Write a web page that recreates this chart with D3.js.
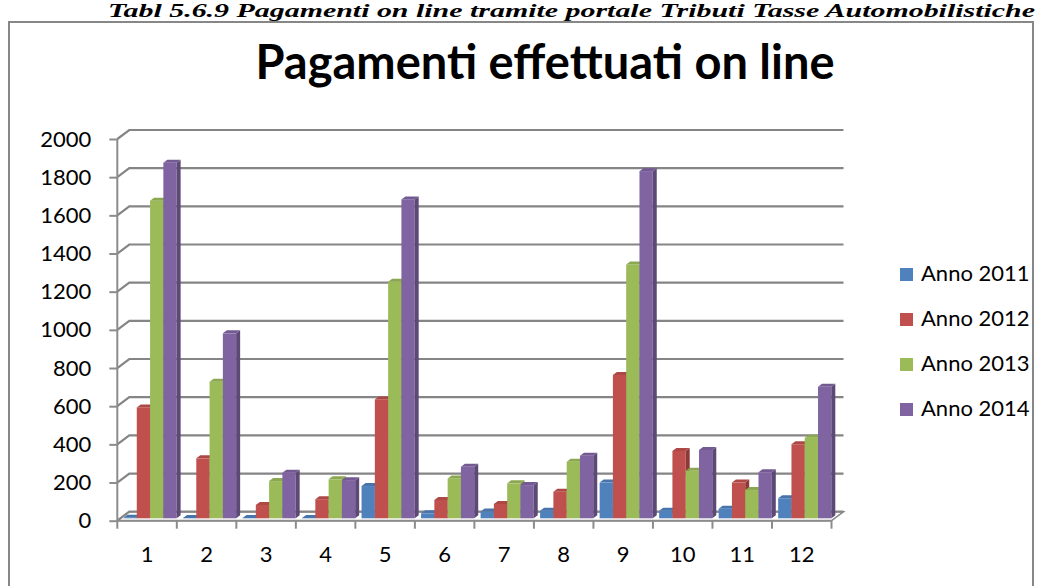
<!DOCTYPE html>
<html>
<head>
<meta charset="utf-8">
<script src="https://cdn.jsdelivr.net/npm/d3@7"></script>
<style>
  body { margin: 0; background: #fff; }
  text { font-family: Lato, "Open Sans", sans-serif; fill: #000; }
</style>
</head>
<body>
<div id="chart"></div>
<script>

// data
var months = ["1", "2", "3", "4", "5", "6", "7", "8", "9", "10", "11", "12"];
var seriesNames = ["Anno 2011", "Anno 2012", "Anno 2013", "Anno 2014"];
var anno2011 = [3, 2, 2, 2, 169, 26, 35, 40, 187, 40, 50, 105];
var anno2012 = [581, 314, 70, 100, 623, 96, 75, 139, 751, 353, 187, 388];
var anno2013 = [1664, 716, 195, 204, 1239, 209, 183, 296, 1330, 249, 148, 422];
var anno2014 = [1863, 969, 239, 200, 1671, 270, 174, 328, 1819, 358, 241, 689];
var yTicks = [0, 200, 400, 600, 800, 1000, 1200, 1400, 1600, 1800, 2000];
var colors = ["#4F81BD", "#C0504D", "#9BBB59", "#8064A2"];

var seriesValues = [anno2011, anno2012, anno2013, anno2014];

function createBarChart(){

  var W = 1041, H = 586;

  // plot area (front plane) and 3d offsets
  var plot = {left: 117.3, right: 831.5, top: 139, bottom: 520.7};
  var wall = {dx: 12, dy: -9};     // back wall offset
  var place = {dx: 3, dy: -2.4};   // where the bars stand in depth
  var depth = {dx: 4, dy: -3};     // thickness of each bar

  var svg = d3.select("#chart").append("svg")
      .attr("width", W)
      .attr("height", H);

  // caption above the chart
  svg.append("text")
      .attr("x", 108)
      .attr("y", 17)
      .attr("textLength", 927)
      .attr("lengthAdjust", "spacingAndGlyphs")
      .style("font-family", "'Liberation Serif', serif")
      .style("font-weight", "bold")
      .style("font-style", "italic")
      .style("font-size", "18px")
      .text("Tabl 5.6.9 Pagamenti on line tramite portale Tributi Tasse Automobilistiche");

  // chart frame
  svg.append("rect")
      .attr("x", 9)
      .attr("y", 22)
      .attr("width", 1024)
      .attr("height", 600)
      .attr("fill", "none")
      .attr("stroke", "#878787")
      .attr("stroke-width", 2);

  // title
  svg.append("text")
      .attr("x", 545)
      .attr("y", 79)
      .style("text-anchor", "middle")
      .style("font-weight", "bold")
      .style("font-size", "47px")
      .text("Pagamenti effettuati on line");

  // scales
  var x = d3.scaleBand()
      .domain(months)
      .range([plot.left, plot.right]);

  var x1 = d3.scaleBand()
      .domain(seriesNames)
      .range([0, x.bandwidth()])
      .paddingOuter(0.24);

  var y = d3.scaleLinear()
      .domain([0, 2000])
      .range([plot.bottom, plot.top]);

  var grid = svg.append("g");

  // floor
  grid.append("path")
      .attr("d", "M" + plot.left + "," + plot.bottom +
                 "L" + plot.right + "," + plot.bottom +
                 "L" + (plot.right + wall.dx) + "," + (plot.bottom + wall.dy) +
                 "L" + (plot.left + wall.dx) + "," + (plot.bottom + wall.dy) + "Z")
      .attr("fill", "#fff")
      .attr("stroke", "#8c8c8c")
      .attr("stroke-width", 1.5);

  // gridlines on the back wall and the side wall
  yTicks.forEach(function(t) {
    var yy = y(t);
    grid.append("path")
        .attr("d", "M" + plot.left + "," + yy +
                   "L" + (plot.left + wall.dx) + "," + (yy + wall.dy) +
                   "L" + (plot.right + wall.dx) + "," + (yy + wall.dy))
        .attr("fill", "none")
        .attr("stroke", "#858585")
        .attr("stroke-width", 2.2);
  });

  // y axis
  svg.append("g")
      .attr("transform", "translate(" + plot.left + ",0)")
      .call(d3.axisLeft(y).tickValues(yTicks).tickSize(8).tickPadding(18)
              .tickFormat(d3.format("d")))
      .call(function(g) {
        g.select(".domain").attr("stroke", "#8c8c8c").attr("stroke-width", 2)
          .attr("d", "M0," + plot.top + "V" + plot.bottom);
        g.selectAll(".tick line").attr("stroke", "#8c8c8c").attr("stroke-width", 2);
        g.selectAll(".tick text").style("font-size", "22px")
          .style("font-family", "Lato, sans-serif").attr("fill", "#000");
      });

  // x axis
  svg.append("g")
      .attr("transform", "translate(0," + plot.bottom + ")")
      .call(d3.axisBottom(x).tickSize(0).tickPadding(26))
      .call(function(g) {
        g.select(".domain").attr("stroke", "#8c8c8c").attr("stroke-width", 2)
          .attr("d", "M" + plot.left + ",0H" + plot.right);
        g.selectAll(".tick text").style("font-size", "22px")
          .style("font-family", "Lato, sans-serif").attr("fill", "#000");
      });

  // x axis tick marks at the band edges
  svg.append("g").selectAll("line")
      .data(months.concat(["end"]))
      .enter().append("line")
      .attr("x1", function(d, i) { return plot.left + i * x.step(); })
      .attr("x2", function(d, i) { return plot.left + i * x.step(); })
      .attr("y1", plot.bottom)
      .attr("y2", plot.bottom + 8)
      .attr("stroke", "#8c8c8c")
      .attr("stroke-width", 2);

  // 3d columns, drawn left to right so each one hides its neighbour's side
  var bars = svg.append("g")
      .attr("transform", "translate(" + place.dx + "," + place.dy + ")");

  months.forEach(function(m, i) {
    seriesNames.forEach(function(s, j) {
      var v = seriesValues[j][i];
      var x0 = x(m) + x1(s), w = x1.bandwidth();
      var yt = y(v), yb = y(0);
      var c = d3.color(colors[j]);
      var g = bars.append("g");

      // front
      g.append("rect")
          .attr("x", x0).attr("y", yt)
          .attr("width", w).attr("height", yb - yt)
          .attr("fill", c);

      // right side
      g.append("path")
          .attr("d", "M" + (x0 + w) + "," + yt +
                     "L" + (x0 + w + depth.dx) + "," + (yt + depth.dy) +
                     "L" + (x0 + w + depth.dx) + "," + (yb + depth.dy) +
                     "L" + (x0 + w) + "," + yb + "Z")
          .attr("fill", c.darker(0.9));

      // top
      g.append("path")
          .attr("d", "M" + x0 + "," + yt +
                     "L" + (x0 + depth.dx) + "," + (yt + depth.dy) +
                     "L" + (x0 + w + depth.dx) + "," + (yt + depth.dy) +
                     "L" + (x0 + w) + "," + yt + "Z")
          .attr("fill", c.darker(0.3));
    });
  });

  // legend
  var legend = svg.append("g").selectAll("g")
      .data(seriesNames)
      .enter().append("g")
      .attr("transform", function(d, i) { return "translate(900," + (268 + i * 45) + ")"; });

  legend.append("rect")
      .attr("width", 13)
      .attr("height", 13)
      .attr("fill", function(d, i) { return colors[i]; });

  legend.append("text")
      .attr("x", 21)
      .attr("y", 13)
      .style("font-size", "22px")
      .text(function(d) { return d; });
}

createBarChart();

</script>
</body>
</html>
